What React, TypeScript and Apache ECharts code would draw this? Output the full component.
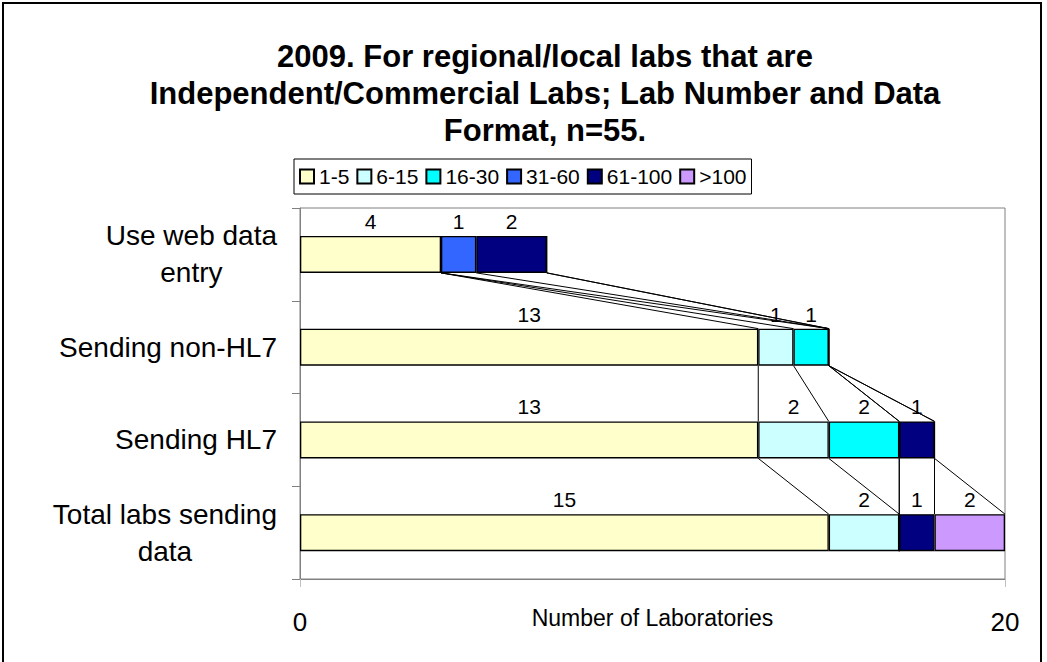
import React, { useEffect, useRef } from "react";
import * as echarts from "echarts";

const categories = ["Use web data\nentry", "Sending non-HL7", "Sending HL7", "Total labs sending\ndata"];
const seriesNames = ["1-5", "6-15", "16-30", "31-60", "61-100", ">100"];
const colors = ["#FFFFCC", "#CCFFFF", "#00FFFF", "#3366FF", "#000080", "#CC99FF"];
const v1to5 = [4, 13, 13, 15];
const v6to15 = [0, 1, 2, 2];
const v16to30 = [0, 1, 2, 0];
const v31to60 = [1, 0, 0, 0];
const v61to100 = [2, 0, 1, 1];
const vOver100 = [0, 0, 0, 2];
const xTicks = [0, 20];

const BAR_W = 37;

export default function App() {
  const ref = useRef<HTMLDivElement>(null);
  useEffect(() => {
    const chart = echarts.init(ref.current!, null, { renderer: "svg" });
    const values = [v1to5, v6to15, v16to30, v31to60, v61to100, vOver100];
    const cum: number[][] = values.map(() => []);
    for (let c = 0; c < categories.length; c++) {
      let s = 0;
      for (let k = 0; k < values.length; k++) {
        s += values[k][c];
        cum[k][c] = s;
      }
    }
    const lineData: number[][] = [];
    for (let c = 0; c < categories.length - 1; c++) {
      for (let k = 0; k < values.length; k++) {
        lineData.push([cum[k][c], c, cum[k][c + 1], c + 1]);
      }
    }
    const font = "Arial, 'Liberation Sans', sans-serif";
    chart.setOption({
      animation: false,
      backgroundColor: "#fff",
      title: {
        text: "2009. For regional/local labs that are\nIndependent/Commercial Labs; Lab Number and Data\nFormat, n=55.",
        left: 540,
        top: 33,
        textAlign: "center",
        textStyle: { fontFamily: font, fontSize: 31, fontWeight: "bold", lineHeight: 37, color: "#000" },
      },
      legend: {
        data: seriesNames,
        left: 294,
        top: 159,
        itemWidth: 14,
        itemHeight: 14,
        itemGap: 7,
        icon: "rect",
        borderColor: "#000",
        borderWidth: 1,
        padding: [7, 5, 7, 5],
        textStyle: { fontFamily: font, fontSize: 21, color: "#000" },
      },
      grid: { left: 300, top: 208, width: 705, height: 371, show: true, borderColor: "#808080", borderWidth: 1 },
      xAxis: {
        type: "value",
        min: 0,
        max: 20,
        interval: 20,
        name: "Number of Laboratories",
        nameLocation: "middle",
        nameGap: 27,
        nameMoveOverlap: false,
        nameTextStyle: { fontFamily: font, fontSize: 23, color: "#000" },
        axisLine: { show: true, lineStyle: { color: "#808080" } },
        axisTick: { show: true, length: 8, lineStyle: { color: "#c0c0c0" } },
        splitLine: { show: false },
        axisLabel: {
          fontFamily: font,
          fontSize: 26,
          color: "#000",
          margin: 30,
          customValues: xTicks,
          formatter: (v: number) => String(v),
        },
      },
      yAxis: {
        type: "category",
        inverse: true,
        data: categories,
        axisLine: { show: true, lineStyle: { color: "#808080" } },
        axisTick: { show: true, length: 8, lineStyle: { color: "#808080" } },
        axisLabel: {
          margin: 23,
          align: "right",
          formatter: (v: string) => v.split("\n").map((l) => `{c|${l}}`).join("\n"),
          rich: {
            c: { fontFamily: font, fontSize: 28, lineHeight: 37, color: "#000", align: "center" },
          },
        },
      },
      series: [
        ...seriesNames.map((name, k) => ({
          name,
          type: "bar",
          stack: "total",
          barWidth: BAR_W,
          data: values[k],
          itemStyle: { color: colors[k], borderColor: "#000", borderWidth: 1.3 },
          label: {
            show: true,
            position: "top",
            distance: 4,
            fontFamily: font,
            fontSize: 21,
            color: "#000",
            formatter: (p: any) => (p.value ? String(p.value) : ""),
          },
          emphasis: { disabled: true },
        })),
        {
          type: "custom",
          name: "seriesLines",
          data: lineData,
          encode: { x: [0, 2], y: [1, 3] },
          silent: true,
          z: 1,
          renderItem: (params: any, api: any) => {
            const p1 = api.coord([api.value(0), api.value(1)]);
            const p2 = api.coord([api.value(2), api.value(3)]);
            return {
              type: "line",
              shape: { x1: p1[0], y1: p1[1] + BAR_W / 2, x2: p2[0], y2: p2[1] - BAR_W / 2 },
              style: { stroke: "#000", lineWidth: 1 },
            };
          },
        },
      ],
      graphic: [
        {
          type: "rect",
          shape: { x: 3, y: 3, width: 1038, height: 720 },
          style: { fill: "none", stroke: "#000", lineWidth: 2 },
          silent: true,
        },
      ],
    });
    return () => chart.dispose();
  }, []);
  return <div ref={ref} style={{ position: "fixed", left: 0, top: 0, width: 1047, height: 662 }} />;
}
